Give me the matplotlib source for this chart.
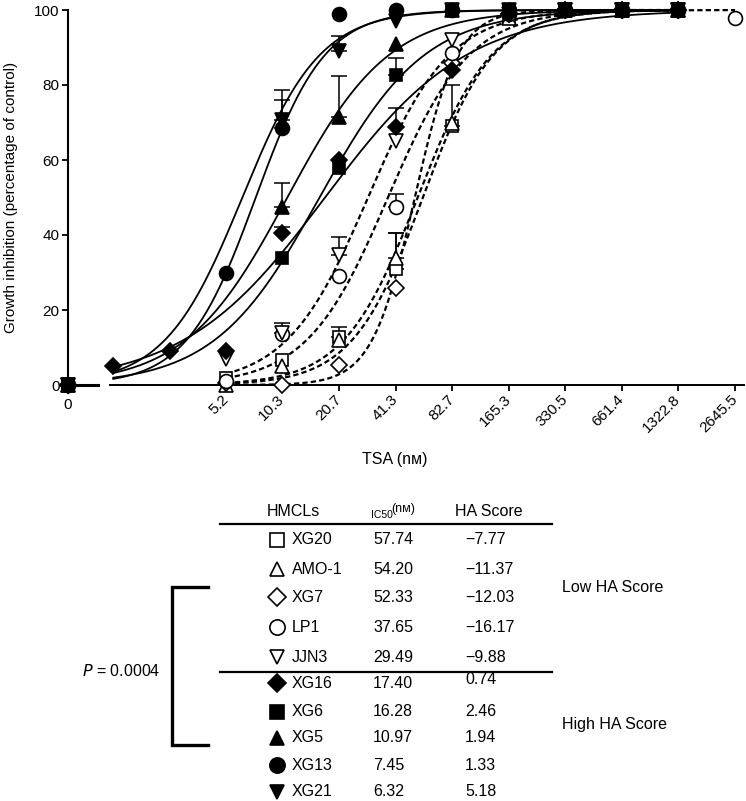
import numpy as np
import matplotlib
matplotlib.use("Agg")
import matplotlib.pyplot as plt

plt.rcParams['font.family'] = ['Liberation Sans', 'DejaVu Sans']

# TSA concentrations (nM); 0 = untreated control
conc_low = [0, 5.2, 10.3, 20.7, 41.3, 82.7, 165.3, 330.5, 661.4, 1322.8, 2645.5]
conc_high = [0, 1.3, 2.6, 5.2, 10.3, 20.7, 41.3, 82.7, 165.3, 330.5, 661.4, 1322.8]

# growth inhibition (% of control), low HA score lines (open symbols, dashed fits)
xg20 = [0, 2, 6.7, 12.8, 31, 69, 98, 100, 100, 100, np.nan]
amo1 = [0, 0, 5, 12, 34, 70, 98, 100, 100, 100, np.nan]
xg7 = [0, 0.5, 0, 5.3, 26, 86, 99, 100, 100, 100, np.nan]
lp1 = [0, 1, 13.5, 29, 47.5, 88.5, 99, 100, 100, 100, 98]
jjn3 = [0, 7, 14, 34.7, 65, 92, 99, 100, 100, 100, np.nan]

# high HA score lines (filled symbols, solid fits)
xg16 = [0, 5, 9, 9, 40.5, 60, 68.8, 84, 99, 100, 100, 100]
xg6 = [0, np.nan, np.nan, np.nan, 34, 58, 82.7, 100, 100, 100, 100, 100]
xg5 = [0, np.nan, np.nan, np.nan, 47.5, 71.5, 91, 100, 100, 100, 100, 100]
xg13 = [0, np.nan, np.nan, 30, 68.5, 99, 100, 100, 100, 100, 100, 100]
xg21 = [0, np.nan, np.nan, np.nan, 70.7, 89, 97, 100, 100, 100, 100, 100]

# upper error bars
err_xg20 = [0, 0, 0, 2.7, 9.5, 11, 0, 0, 0, 0, 0]
err_amo1 = [0, 0, 0, 0, 6.5, 0, 0, 0, 0, 0, 0]
err_lp1 = [0, 0, 0, 0, 3.5, 0, 0, 0, 0, 0, 0]
err_jjn3 = [0, 0, 2.5, 4.8, 0, 0, 0, 0, 0, 0, 0]
err_xg16 = [0, 0, 0, 0, 1.6, 0, 5, 0, 0, 0, 0, 0]
err_xg6 = [0, 0, 0, 0, 0, 0, 4.5, 0, 0, 0, 0, 0]
err_xg5 = [0, 0, 0, 0, 6.5, 10.8, 0, 0, 0, 0, 0, 0]
err_xg13 = [0, 0, 0, 0, 7.5, 0, 0, 0, 0, 0, 0, 0]
err_xg21 = [0, 0, 0, 0, 8, 4, 0, 0, 0, 0, 0, 0]

names = ['XG20', 'AMO-1', 'XG7', 'LP1', 'JJN3', 'XG16', 'XG6', 'XG5', 'XG13', 'XG21']
ic50 = [57.74, 54.20, 52.33, 37.65, 29.49, 17.40, 16.28, 10.97, 7.45, 6.32]
ha_score = ['\u22127.77', '\u221211.37', '\u221212.03', '\u221216.17', '\u22129.88',
            '0.74', '2.46', '1.94', '1.33', '5.18']
hill = [2.3, 2.2, 3.8, 2.0, 2.0, 1.15, 1.55, 1.6, 2.35, 2.1]
values = [xg20, amo1, xg7, lp1, jjn3, xg16, xg6, xg5, xg13, xg21]
errors = [err_xg20, err_amo1, [0] * 11, err_lp1, err_jjn3,
          err_xg16, err_xg6, err_xg5, err_xg13, err_xg21]
markers = ['s', '^', 'D', 'o', 'v', 'D', 's', '^', 'o', 'v']
msizes = [9, 9.5, 8, 10, 9.5, 8, 9, 9.5, 10, 9.5]

tick_conc = [0, 5.2, 10.3, 20.7, 41.3, 82.7, 165.3, 330.5, 661.4, 1322.8, 2645.5]
tick_labels = ['0', '5.2', '10.3', '20.7', '41.3', '82.7', '165.3', '330.5',
               '661.4', '1322.8', '2645.5']


def fwd(c):
    c = np.asarray(c, dtype=float)
    safe = np.where(c > 0, c, 1.0)
    return np.where(c > 0, np.log2(safe / 1.3), -0.8)


def inv(x):
    x = np.asarray(x, dtype=float)
    return np.where(x > -0.8, 1.3 * 2.0 ** x, 0.0)


fig = plt.figure(figsize=(7.46, 8.01), dpi=100)
ax = fig.add_axes([68 / 746, 1 - 385 / 801, 676 / 746, 375 / 801])
ax.set_xscale('function', functions=(fwd, inv))
ax.set_xlim(0, 1.3 * 2 ** 11.15)
ax.set_ylim(0, 100)

for i in range(10):
    low = i < 5
    conc = np.array(conc_low if low else conc_high)
    y = np.array(values[i], dtype=float)
    err = np.array(errors[i], dtype=float)
    # Hill fit curve over the tested range
    last = conc[~np.isnan(y)][-1]
    xc = np.geomspace(conc[1], last, 400)
    yc = 100 / (1 + (ic50[i] / xc) ** hill[i])
    if low:
        ax.plot(xc, yc, color='k', lw=1.6, dashes=(2.4, 1.4), zorder=2, clip_on=False)
    else:
        ax.plot(xc, yc, color='k', lw=1.3, zorder=2, clip_on=False)
    m = err > 0
    if m.any():
        ax.errorbar(conc[m], y[m], yerr=[np.zeros(m.sum()), err[m]], fmt='none',
                    ecolor='k', elinewidth=1.1, capsize=5.5, capthick=1.1, zorder=3)
    ax.plot(conc, y, linestyle='none', marker=markers[i], ms=msizes[i],
            mfc='white' if low else 'k', mec='k', mew=1.2, zorder=4, clip_on=False)

for s in ['top', 'right', 'bottom']:
    ax.spines[s].set_visible(False)
ax.spines['left'].set_linewidth(1.5)
# broken x axis
ax.axhline(0, xmin=0, xmax=30 / 676, color='k', lw=2.2, clip_on=False, zorder=1)
ax.axhline(0, xmin=42 / 676, xmax=1, color='k', lw=1.4, clip_on=False, zorder=1)

ax.set_yticks([0, 20, 40, 60, 80, 100])
ax.set_xticks(tick_conc)
ax.set_xticklabels(tick_labels)
ax.xaxis.set_minor_locator(matplotlib.ticker.NullLocator())
ax.tick_params(axis='y', direction='out', length=4, width=1.3, labelsize=11, pad=2)
ax.tick_params(axis='x', direction='out', length=4, width=1.3, labelsize=11, pad=5)
ax.xaxis.get_major_ticks()[0].tick1line.set_visible(False)
for lab in ax.get_xticklabels()[1:]:
    lab.set_rotation(45)
    lab.set_ha('right')
    lab.set_va('center')
    lab.set_rotation_mode('anchor')

ax.set_ylabel('Growth inhibition (percentage of control)', fontsize=11)
ax.yaxis.set_label_coords(-0.074, 0.5)
ax.set_xlabel('TSA (n\u1d0d)', fontsize=11.5)
ax.xaxis.set_label_coords(0.484, -0.178)

# table below the plot, in pixel coordinates
ov = fig.add_axes([0, 0, 1, 1])
ov.set_xlim(0, 746)
ov.set_ylim(801, 0)
ov.axis('off')

fs = 11.5
ov.text(267, 512, 'HMCLs', fontsize=fs, va='center')
ov.text(371, 515, 'IC50', fontsize=7.5, va='center')
ov.text(391, 509, '(n\u1d0d)', fontsize=9, va='center')
ov.text(455, 512, 'HA Score', fontsize=fs, va='center')
ov.plot([220, 552], [524, 524], color='k', lw=1.6)
ov.plot([220, 552], [672, 672], color='k', lw=1.6)

row_y = [540, 569, 597, 627, 657, 683, 712, 738, 765, 792]
for i in range(10):
    low = i < 5
    ov.plot(277, row_y[i], marker=markers[i], ms=msizes[i] + 1, linestyle='none',
            mfc='white' if low else 'k', mec='k', mew=1.2)
    ov.text(292, row_y[i], names[i], fontsize=fs, va='center')
    ov.text(373, row_y[i], '%.2f' % ic50[i], fontsize=fs, va='center')
    ov.text(465, row_y[i] - (3 if i == 5 else 0), ha_score[i], fontsize=fs, va='center')

ov.text(562, 587, 'Low HA Score', fontsize=fs, va='center')
ov.text(562, 724, 'High HA Score', fontsize=fs, va='center')

ov.plot([208, 172, 172, 208], [587, 587, 745, 745], color='k', lw=2.4,
        solid_joinstyle='miter')
ov.text(160, 671, r'$P$ = 0.0004', fontsize=fs, va='center', ha='right')

fig.savefig('out.png', dpi=100)
